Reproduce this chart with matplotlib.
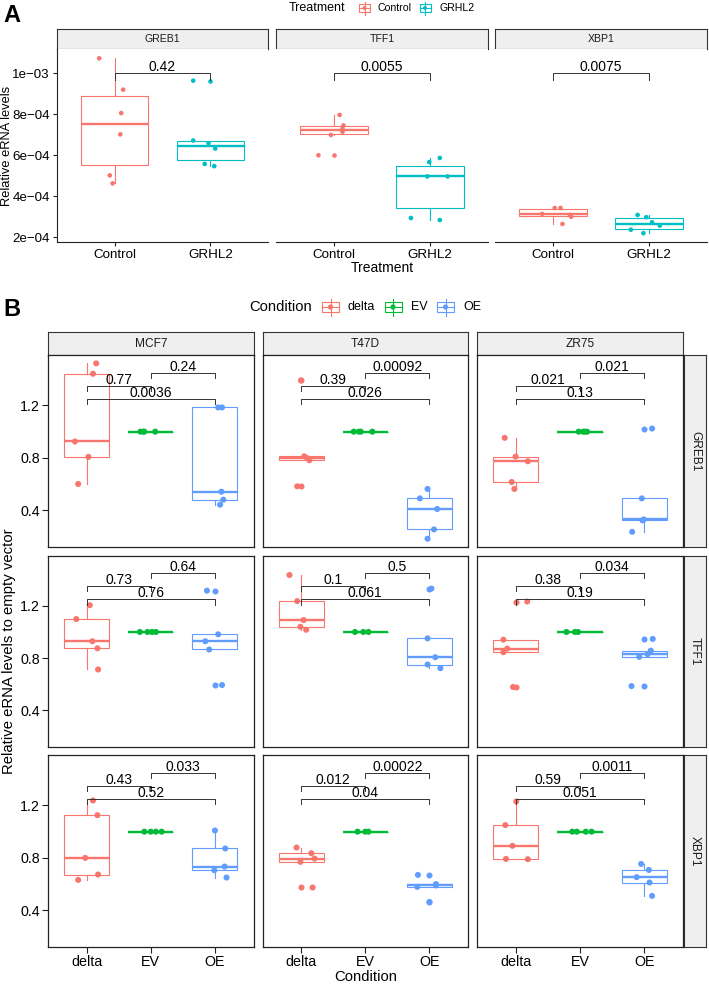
import matplotlib
matplotlib.use('Agg')
import matplotlib.pyplot as plt
import numpy as np
from matplotlib import cbook
from matplotlib.patches import Rectangle

plt.rcParams['font.family'] = ['Liberation Sans', 'DejaVu Sans']

W, H = 709, 984

# ---------------- panel A data ----------------
genes_a = ['GREB1', 'TFF1', 'XBP1']
treatments = ['Control', 'GRHL2']
treat_colors = ['#F8766D', '#00BFC4']

greb1_control = [1.073e-3, 9.20e-4, 8.06e-4, 7.02e-4, 5.02e-4, 4.63e-4]
greb1_grhl2 = [9.64e-4, 6.72e-4, 6.59e-4, 6.33e-4, 5.58e-4, 5.47e-4]
tff1_control = [7.97e-4, 7.46e-4, 7.30e-4, 7.15e-4, 6.99e-4, 6.00e-4]
tff1_grhl2 = [5.67e-4, 5.87e-4, 4.97e-4, 4.97e-4, 2.94e-4, 2.84e-4]
xbp1_control = [3.43e-4, 3.43e-4, 3.14e-4, 3.09e-4, 3.00e-4, 2.65e-4]
xbp1_grhl2 = [3.09e-4, 2.98e-4, 2.73e-4, 2.57e-4, 2.37e-4, 2.20e-4]
pvals_a = ['0.42', '0.0055', '0.0075']

# horizontal jitter of the dots (category units)
greb1_control_jit = [-0.16, 0.09, 0.07, 0.06, -0.05, -0.02]
greb1_grhl2_jit = [-0.18, -0.18, -0.02, 0.05, -0.06, 0.04]
tff1_control_jit = [0.06, 0.10, 0.09, 0.09, -0.03, -0.16]
tff1_grhl2_jit = [-0.01, 0.10, -0.03, 0.18, -0.20, 0.10]
xbp1_control_jit = [0.02, 0.08, -0.11, 0.18, 0.19, 0.10]
xbp1_grhl2_jit = [-0.12, -0.03, 0.03, 0.11, -0.19, -0.06]

# ---------------- panel B data ----------------
cells = ['MCF7', 'T47D', 'ZR75']
genes_b = ['GREB1', 'TFF1', 'XBP1']
conditions = ['delta', 'EV', 'OE']
cond_colors = ['#F8766D', '#00BA38', '#619CFF']

# [delta, EV, OE] for each cell line / gene
mcf7_greb1 = [[1.521, 1.442, 0.925, 0.808, 0.601], [1, 1, 1, 1], [1.185, 1.185, 0.542, 0.481, 0.443]]
t47d_greb1 = [[1.391, 0.812, 0.797, 0.782, 0.583], [1, 1, 1, 1], [0.563, 0.491, 0.41, 0.254, 0.183]]
zr75_greb1 = [[0.953, 0.81, 0.774, 0.616, 0.563], [1, 1, 1, 1], [1.024, 0.491, 0.33, 0.323, 0.236]]
mcf7_tff1 = [[1.205, 1.099, 0.929, 0.875, 0.713], [1, 1, 1, 1], [1.316, 0.982, 0.929, 0.866, 0.594]]
t47d_tff1 = [[1.436, 1.236, 1.091, 1.04, 1.017], [1, 1, 1], [1.332, 0.951, 0.807, 0.751, 0.723]]
zr75_tff1 = [[1.233, 0.941, 0.873, 0.845, 0.579], [1, 1, 1], [0.947, 0.857, 0.83, 0.81, 0.586]]
mcf7_xbp1 = [[1.238, 1.126, 0.8, 0.673, 0.632], [1, 1, 1, 1], [1.009, 0.872, 0.734, 0.706, 0.65]]
t47d_xbp1 = [[0.879, 0.836, 0.795, 0.77, 0.574], [1, 1, 1], [0.67, 0.6, 0.59, 0.579, 0.464]]
zr75_xbp1 = [[1.231, 1.05, 0.892, 0.792, 0.79], [1, 1, 1, 1], [0.754, 0.708, 0.653, 0.612, 0.51]]

mcf7_greb1_jit = [[0.15, 0.10, -0.18, 0.03, -0.13], [-0.16, -0.12, -0.10, 0.07], [0.05, 0.11, 0.10, 0.13, 0.08]]
t47d_greb1_jit = [[0.0, 0.05, 0.10, 0.13, -0.06], [-0.18, -0.10, -0.07, 0.11], [-0.03, -0.15, 0.12, 0.07, -0.03]]
zr75_greb1_jit = [[-0.17, 0.0, 0.19, -0.06, -0.02], [-0.02, 0.05, 0.08, 0.11], [0.12, -0.04, -0.01, -0.03, -0.19]]
mcf7_tff1_jit = [[0.05, -0.16, 0.09, 0.17, 0.18], [-0.17, -0.05, 0.02, 0.08], [-0.125, 0.05, -0.15, -0.09, 0.11]]
t47d_tff1_jit = [[-0.18, -0.06, 0.04, -0.01, 0.08], [-0.16, -0.03, 0.05], [0.03, -0.03, 0.09, -0.03, 0.17]]
zr75_tff1_jit = [[0.18, -0.19, -0.13, -0.19, -0.04], [-0.21, -0.08, -0.03], [0.13, 0.10, 0.05, -0.08, -0.20]]
mcf7_xbp1_jit = [[0.10, 0.17, -0.02, 0.18, -0.13], [-0.10, 0.0, 0.08, 0.17], [0.0, 0.16, 0.15, -0.01, 0.18]]
t47d_xbp1_jit = [[-0.07, 0.16, 0.21, -0.01, 0.18], [-0.12, 0.0, 0.05], [-0.18, 0.10, 0.10, -0.19, 0.0]]
zr75_xbp1_jit = [[0.01, -0.16, -0.05, -0.15, 0.19], [-0.12, -0.05, 0.09, 0.18], [-0.05, 0.07, -0.12, 0.08, 0.12]]

# p-values: [delta vs EV, delta vs OE, EV vs OE]
mcf7_greb1_p = ['0.77', '0.0036', '0.24']
t47d_greb1_p = ['0.39', '0.026', '0.00092']
zr75_greb1_p = ['0.021', '0.13', '0.021']
mcf7_tff1_p = ['0.73', '0.76', '0.64']
t47d_tff1_p = ['0.1', '0.061', '0.5']
zr75_tff1_p = ['0.38', '0.19', '0.034']
mcf7_xbp1_p = ['0.43', '0.52', '0.033']
t47d_xbp1_p = ['0.012', '0.04', '0.00022']
zr75_xbp1_p = ['0.59', '0.051', '0.0011']

data_a = [(greb1_control, greb1_grhl2), (tff1_control, tff1_grhl2), (xbp1_control, xbp1_grhl2)]
jit_a = [(greb1_control_jit, greb1_grhl2_jit), (tff1_control_jit, tff1_grhl2_jit),
         (xbp1_control_jit, xbp1_grhl2_jit)]
data_b = [[mcf7_greb1, t47d_greb1, zr75_greb1], [mcf7_tff1, t47d_tff1, zr75_tff1],
          [mcf7_xbp1, t47d_xbp1, zr75_xbp1]]
jit_b = [[mcf7_greb1_jit, t47d_greb1_jit, zr75_greb1_jit], [mcf7_tff1_jit, t47d_tff1_jit, zr75_tff1_jit],
         [mcf7_xbp1_jit, t47d_xbp1_jit, zr75_xbp1_jit]]
p_b = [[mcf7_greb1_p, t47d_greb1_p, zr75_greb1_p], [mcf7_tff1_p, t47d_tff1_p, zr75_tff1_p],
       [mcf7_xbp1_p, t47d_xbp1_p, zr75_xbp1_p]]

fig = plt.figure(figsize=(W / 100, H / 100), dpi=100)
LINE = '#222222'


def px_axes(x0, y0, x1, y1):
    return fig.add_axes([x0 / W, 1 - y1 / H, (x1 - x0) / W, (y1 - y0) / H])


def strip(x0, y0, x1, y1, label, size, rot=0):
    ax = px_axes(x0, y0, x1, y1)
    ax.set_xticks([])
    ax.set_yticks([])
    ax.set_facecolor('#EFEFEF')
    for s in ax.spines.values():
        s.set_color('#333333')
        s.set_linewidth(0.8)
    ax.text(0.5, 0.5, label, ha='center', va='center', rotation=rot, fontsize=size,
            color='#1A1A1A', transform=ax.transAxes)


def boxes(ax, groups, jits, colors, dot_s):
    for i, (vals, jit, col) in enumerate(zip(groups, jits, colors)):
        st = cbook.boxplot_stats(np.asarray(vals, dtype=float), whis=1.5)
        ax.bxp(st, positions=[i + 1], widths=0.7, showcaps=False, patch_artist=True,
               manage_ticks=False,
               boxprops=dict(facecolor='white', edgecolor=col, linewidth=0.8),
               medianprops=dict(color=col, linewidth=1.7, solid_capstyle='butt'),
               whiskerprops=dict(color=col, linewidth=0.8),
               flierprops=dict(marker='o', markerfacecolor=col, markeredgecolor='none',
                               markersize=np.sqrt(dot_s)))
        ax.scatter(i + 1 + np.asarray(jit), vals, s=dot_s, color=col, edgecolors='none', zorder=4)


def bracket(ax, i, j, y, tip, label):
    ax.plot([i, i, j, j], [y - tip, y, y, y - tip], color='#333333', lw=0.7, zorder=5)
    ax.annotate(label, ((i + j) / 2, y), xytext=(0, 1.3), textcoords='offset points',
                ha='center', va='baseline', fontsize=10, zorder=6)


# ---------------- panel A ----------------
cols_a = [(57, 268), (276, 488), (495, 707)]
for k, gene in enumerate(genes_a):
    x0, x1 = cols_a[k]
    strip(x0, 29, x1, 49, gene, 7.6)
    ax = px_axes(x0, 49, x1, 242)
    boxes(ax, data_a[k], jit_a[k], treat_colors, 11)
    bracket(ax, 1, 2, 1.0e-3, 3.2e-5, pvals_a[k])
    ax.set_xlim(0.4, 2.6)
    ax.set_ylim(1.77e-4, 1.1185e-3)
    ax.set_xticks([1, 2], treatments)
    ax.set_yticks([2e-4, 4e-4, 6e-4, 8e-4, 1e-3], ['2e\u221204', '4e\u221204', '6e\u221204', '8e\u221204', '1e\u221203'])
    ax.spines['top'].set_visible(False)
    ax.spines['right'].set_visible(False)
    for s in ('left', 'bottom'):
        ax.spines[s].set_color(LINE)
        ax.spines[s].set_linewidth(0.8)
    ax.tick_params(direction='out', length=3, width=0.8, color=LINE, labelsize=9.6, pad=2,
                   labelcolor='black')
    if k > 0:
        ax.spines['left'].set_visible(False)
        ax.tick_params(axis='y', left=False, labelleft=False)

# ---------------- panel B ----------------
cols_b = [(48, 253.5), (262.5, 468), (477, 683)]
rows_b = [(355, 547), (555.5, 747), (755, 947)]
for r, gene in enumerate(genes_b):
    y0, y1 = rows_b[r]
    strip(683.5, y0, 706.5, y1, gene, 8.6, rot=270)
    for c, cell in enumerate(cells):
        x0, x1 = cols_b[c]
        if r == 0:
            strip(x0, 332, x1, 355, cell, 8.6)
        ax = px_axes(x0, y0, x1, y1)
        boxes(ax, data_b[r][c], jit_b[r][c], cond_colors, 19)
        pv = p_b[r][c]
        bracket(ax, 1, 2, 1.35, 0.04, pv[0])
        bracket(ax, 1, 3, 1.25, 0.04, pv[1])
        bracket(ax, 2, 3, 1.45, 0.04, pv[2])
        ax.set_xlim(0.4, 3.6)
        ax.set_ylim(0.12, 1.585)
        ax.set_xticks([1, 2, 3], conditions)
        ax.set_yticks([0.4, 0.8, 1.2], ['0.4', '0.8', '1.2'])
        for s in ax.spines.values():
            s.set_color(LINE)
            s.set_linewidth(0.9)
        ax.tick_params(direction='out', length=4, width=0.8, color=LINE, labelsize=10.3, pad=2,
                       labelcolor='black')
        if c > 0:
            ax.tick_params(axis='y', left=False, labelleft=False)
        if r < 2:
            ax.tick_params(axis='x', bottom=False, labelbottom=False)

# ---------------- titles, legends ----------------
ov = fig.add_axes([0, 0, 1, 1])
ov.set_xlim(0, W)
ov.set_ylim(H, 0)
ov.axis('off')
ov.patch.set_visible(False)


def key(cx, cy, w, h, wl, col, dot_s):
    ov.plot([cx, cx], [cy - h / 2 - wl, cy + h / 2 + wl], color=col, lw=0.8)
    ov.add_patch(Rectangle((cx - w / 2, cy - h / 2), w, h, facecolor='white', edgecolor=col, lw=0.8))
    ov.plot([cx - w / 2, cx + w / 2], [cy, cy], color=col, lw=0.8)
    ov.scatter([cx], [cy], s=dot_s, color=col, edgecolors='none', zorder=5)


ov.text(3, 15, 'A', fontsize=17, fontweight='bold', ha='left', va='center')
ov.text(3, 310, 'B', fontsize=17, fontweight='bold', ha='left', va='center')

ov.text(289, 8, 'Treatment', fontsize=9, ha='left', va='center')
for cx, tx, lab, col in zip([364.5, 425], [377, 439], treatments, treat_colors):
    key(cx, 8, 11, 8, 2.5, col, 8)
    ov.text(tx, 8, lab, fontsize=7.6, ha='left', va='center')

ov.text(249, 307, 'Condition', fontsize=10.6, ha='left', va='center')
for cx, tx, lab, col in zip([330.5, 393, 445.5], [348, 411, 463], conditions, cond_colors):
    key(cx, 307, 17, 10, 3.5, col, 14)
    ov.text(tx, 307, lab, fontsize=9, ha='left', va='center')

ov.text(7, 145.5, 'Relative eRNA levels', fontsize=9.3, rotation=90, ha='center', va='center')
ov.text(382, 268, 'Treatment', fontsize=10, ha='center', va='center')
ov.text(9, 651, 'Relative eRNA levels to empty vector', fontsize=10.7, rotation=90,
        ha='center', va='center')
ov.text(365.5, 977, 'Condition', fontsize=10.7, ha='center', va='center')

fig.savefig('out.png', dpi=100)
